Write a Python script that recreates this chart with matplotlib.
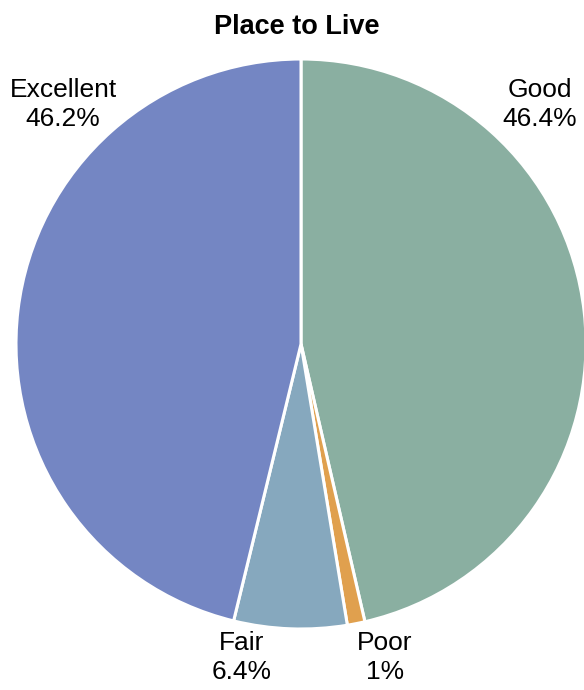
import matplotlib
matplotlib.use('Agg')

import matplotlib.pyplot as plt

plt.rcParams['font.family'] = ['Liberation Sans', 'DejaVu Sans']

# Data
categories = ['Good', 'Poor', 'Fair', 'Excellent']
shares = [46.4, 1.0, 6.4, 46.2]
pct_labels = ['46.4%', '1%', '6.4%', '46.2%']
colors = ['#8aafa1', '#e0a04e', '#86a8be', '#7486c3']

fig = plt.figure(figsize=(5.84, 6.90), dpi=100)
ax = fig.add_axes([16 / 584, 61 / 690, 570 / 584, 570 / 690])

ax.pie(shares, colors=colors, startangle=90, counterclock=False,
       radius=1.0, wedgeprops=dict(edgecolor='white', linewidth=2.2))
ax.set_xlim(-1, 1)
ax.set_ylim(-1, 1)
ax.set_aspect('equal')
ax.axis('off')

# Label positions (layout only)
label_pos = {
    'Good': (0.838, 0.84),
    'Poor': (0.295, -1.1),
    'Fair': (-0.21, -1.1),
    'Excellent': (-0.835, 0.84),
}
for cat, pct in zip(categories, pct_labels):
    x, y = label_pos[cat]
    ax.text(x, y, f'{cat}\n{pct}', ha='center', va='center',
            fontsize=19, linespacing=1.3, clip_on=False)

fig.text(297 / 584, 1 - 27 / 690, 'Place to Live', ha='center', va='center',
         fontsize=19.5, fontweight='bold')

plt.savefig('out.png', dpi=100)
